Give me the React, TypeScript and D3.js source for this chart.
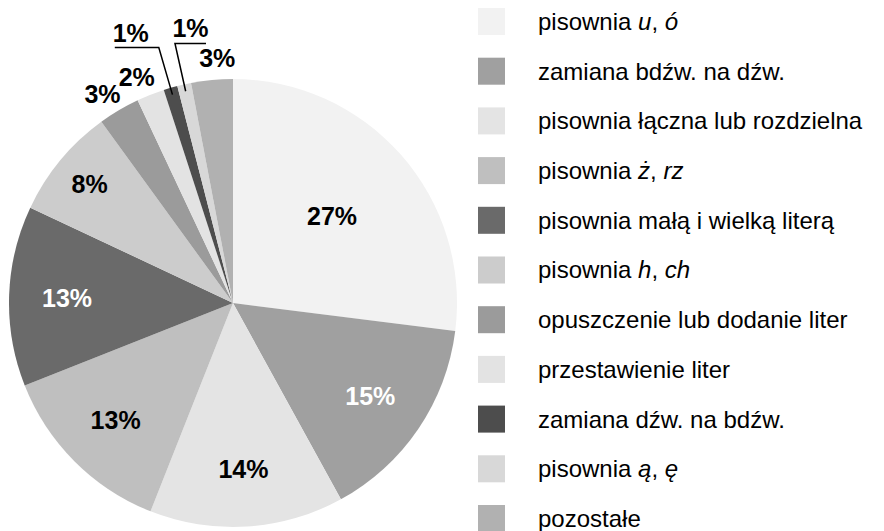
import * as d3 from 'd3'

// categories in drawing order (clockwise from 12 o'clock); *x* marks italic
const categories = [
  'pisownia *u*, *ó*',
  'zamiana bdźw. na dźw.',
  'pisownia łączna lub rozdzielna',
  'pisownia *ż*, *rz*',
  'pisownia małą i wielką literą',
  'pisownia *h*, *ch*',
  'opuszczenie lub dodanie liter',
  'przestawienie liter',
  'zamiana dźw. na bdźw.',
  'pisownia *ą*, *ę*',
  'pozostałe',
]
const shares = [27, 15, 14, 13, 13, 8, 3, 2, 1, 1, 3]
const colors = ['#f2f2f2', '#a0a0a0', '#e4e4e4', '#bfbfbf', '#6a6a6a', '#cccccc', '#9b9b9b', '#e3e3e3', '#4d4d4d', '#d8d8d8', '#b1b1b1']
const whiteText = [false, true, false, false, true, false, false, false, false, false, false]
// label placement: 'in' inside, 'out' just outside, 'left'/'right' with a leader line
const placement = ['in', 'in', 'in', 'in', 'in', 'in', 'out', 'out', 'left', 'right', 'out']

const W = 884
const H = 531
const cx = 233
const cy = 303
const R = 224
const FONT = '"Liberation Sans", Arial, sans-serif'

function polar(angle: number, r: number): [number, number] {
  return [cx + Math.sin(angle) * r, cy - Math.cos(angle) * r]
}

function richText(s: string) {
  return s.split('*').map((part, i) => (
    <tspan key={i} fontStyle={i % 2 === 1 ? 'italic' : 'normal'}>{part}</tspan>
  ))
}

export default function App() {
  const pie = d3.pie<number>().sort(null).value(d => d)
  const arcs = pie(shares)
  const arc = d3.arc<d3.PieArcDatum<number>>().innerRadius(0).outerRadius(R)

  const legendY = d3.scaleLinear().domain([0, categories.length - 1]).range([8, 505])

  return (
    <svg width={W} height={H} style={{ position: 'absolute', left: 0, top: 0, background: '#fff' }}
      fontFamily={FONT}>
      <g>
        {arcs.map((a, i) => (
          <path key={i} d={arc(a) ?? ''} transform={`translate(${cx},${cy})`} fill={colors[i]} />
        ))}
      </g>
      <g fontWeight="bold" fontSize={25} textAnchor="middle">
        {arcs.map((a, i) => {
          const mid = (a.startAngle + a.endAngle) / 2
          const txt = `${shares[i]}%`
          const p = placement[i]
          if (p === 'in') {
            const r = i === 0 ? 132 : i === 5 ? 186 : 166
            const [x, y] = polar(mid, r)
            return <text key={i} x={x} y={y} dy="0.36em" fill={whiteText[i] ? '#fff' : '#000'}>{txt}</text>
          }
          if (p === 'out') {
            const shift = i === categories.length - 1 ? 0.03 : -0.025
            const [x, y] = polar(mid + shift, R + 22)
            return <text key={i} x={x} y={y} dy="0.36em" fill="#000">{txt}</text>
          }
          const [sx, sy] = polar(mid, R - 7)
          const [ex, ey] = polar(mid, R + 42)
          const len = p === 'left' ? -44 : 31
          const hx = ex + len
          return (
            <g key={i}>
              <polyline points={`${sx},${sy} ${ex},${ey} ${hx},${ey}`} fill="none" stroke="#000" strokeWidth={1.5} />
              <text x={(ex + hx) / 2 - (p === 'left' ? 6 : 0)} y={ey - 6} fill="#000">{txt}</text>
            </g>
          )
        })}
      </g>
      <g fontSize={24}>
        {categories.map((c, i) => (
          <g key={i} transform={`translate(478,${legendY(i)})`}>
            <rect width={27} height={27} fill={colors[i]} />
            <text x={60} y={13.5} dy="0.35em" fill="#000">{richText(c)}</text>
          </g>
        ))}
      </g>
    </svg>
  )
}
